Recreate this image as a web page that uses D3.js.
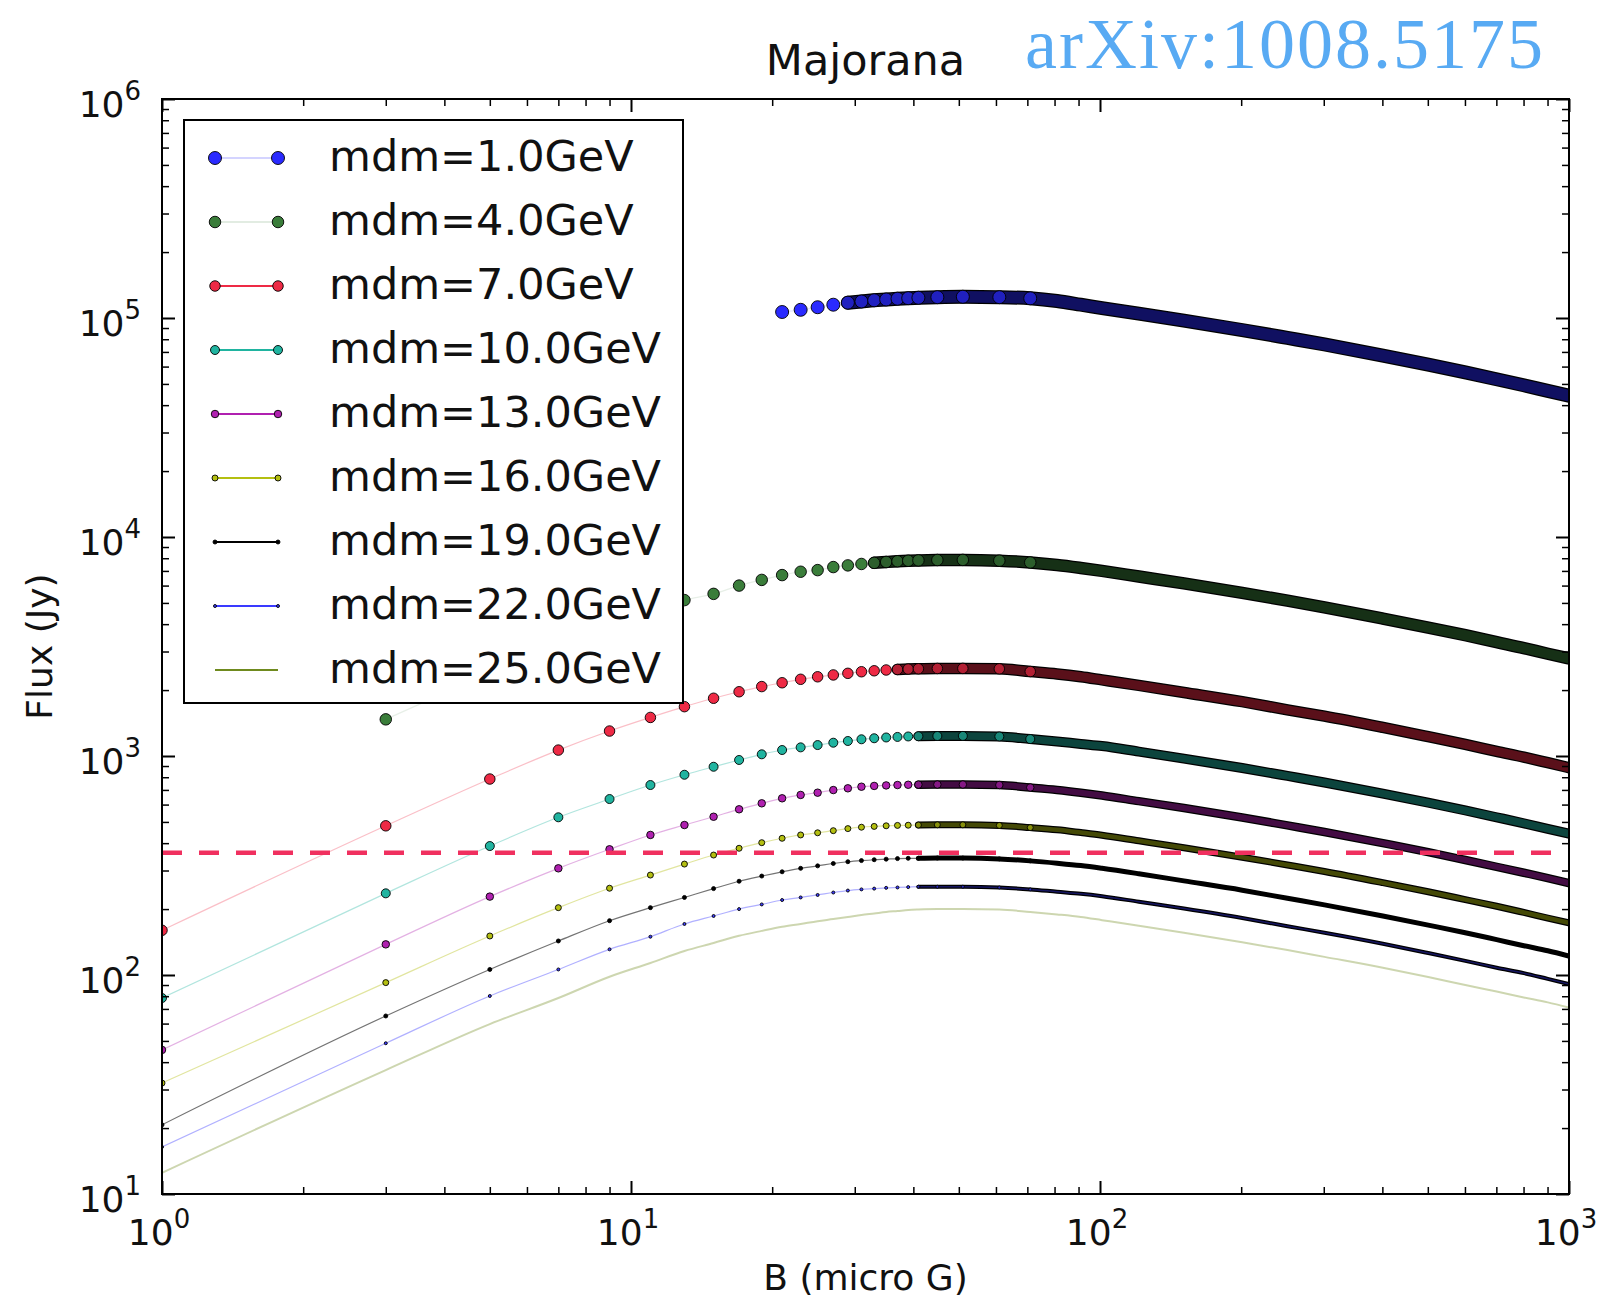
<!DOCTYPE html>
<html>
<head>
<meta charset="utf-8">
<script src="https://cdnjs.cloudflare.com/ajax/libs/d3/7.8.5/d3.min.js"></script>
<style>
body { margin: 0; background: #fff; }
text { font-family: "DejaVu Sans", sans-serif; fill: #111; }
</style>
</head>
<body>
<div id="chart"></div>
<script>
// magnetic field samples (micro G)
const B_VALUES = [1, 3, 5, 7, 9, 11, 13, 15, 17, 19, 21, 23, 25, 27, 29, 31, 33, 35, 37, 39, 41,
  45, 51, 61, 71, 81, 91, 101, 121, 151, 201, 251, 301, 401, 501, 601, 701, 801, 901, 999];

const MASSES = ["1.0", "4.0", "7.0", "10.0", "13.0", "16.0", "19.0", "22.0", "25.0"];

// flux (Jy) per dark matter mass
const flux_m1 = [null, null, null, null, null, null, null, null, null, null,
  106500, 109000, 112000, 115000, 117500, 119000, 120500, 121500, 122500, 123200, 123700,
  124500, 125000, 124500, 123000, 119500, 115000, 111000, 104700, 97300, 88100, 81100, 75700,
  67300, 61200, 56400, 52500, 49300, 46500, 44200];
const flux_m4 = [null, 1470, 2390, 3250, 3960, 4580, 5150, 5500, 6000, 6370, 6700, 6940, 7060,
  7290, 7420, 7530, 7620, 7690, 7750, 7790, 7820, 7850, 7860, 7800, 7650, 7450, 7220, 7000,
  6600, 6140, 5560, 5120, 4770, 4240, 3860, 3560, 3310, 3110, 2930, 2790];
const flux_m7 = [160, 480, 785, 1064, 1300, 1500, 1680, 1835, 1965, 2075, 2160, 2240, 2300,
  2345, 2385, 2425, 2450, 2470, 2485, 2495, 2502, 2510, 2512, 2500, 2430, 2370, 2300, 2225,
  2100, 1950, 1770, 1625, 1520, 1350, 1225, 1130, 1050, 988, 932, 885];
const flux_m10 = [78.5, 236, 388, 525, 636, 737, 821, 893, 959, 1018, 1065, 1095, 1122, 1150,
  1171, 1192, 1205, 1215, 1222, 1228, 1231, 1234, 1235, 1228, 1195, 1165, 1135, 1110, 1047,
  973, 881, 811, 757, 673, 612, 564, 525, 493, 465, 442];
const flux_m13 = [45.5, 138, 228, 307, 375, 436, 484, 528, 571, 608, 641, 664, 680, 699, 712,
  724, 730, 734, 737, 739, 740, 741, 741, 737, 718, 700, 680, 660, 622, 579, 524, 482, 450,
  400, 364, 335, 312, 293, 277, 263];
const flux_m16 = [32.1, 92.3, 150.7, 203, 249, 286, 321, 353, 379, 402, 421, 436, 446, 456,
  466, 473, 477, 480, 482, 483, 484, 485, 485, 482, 471, 460, 447, 435, 410, 381, 345, 318,
  297, 264, 240, 221, 206, 193, 182, 173];
const flux_m19 = [20.7, 65, 106, 143, 177, 203, 226, 248, 268, 283, 296, 307, 315, 323, 329,
  333, 336, 338, 340, 341, 341, 342, 342, 339, 332, 324, 316, 307, 290, 269, 244, 224, 209,
  186, 169, 156, 145, 136, 129, 122];
const flux_m22 = [16.4, 48.8, 80.2, 106, 131, 149.6, 171, 186, 200, 210, 220, 226, 232, 238,
  243, 246, 248, 250, 251, 252, 253, 253, 253, 251, 246, 240, 235, 229, 216, 201, 182, 167,
  156, 139, 126, 116, 108, 102, 96, 91];
const flux_m25 = [12.5, 36.8, 59.7, 78.5, 98.2, 113.5, 128.7, 140, 151, 159, 166, 171, 176,
  180, 184, 188, 191, 194, 196, 198, 199, 200, 200, 199, 194, 189, 184, 178, 168, 156, 141,
  130, 121, 108, 98, 90, 84, 79, 75, 71];

const FLUX_SERIES = [flux_m1, flux_m4, flux_m7, flux_m10, flux_m13, flux_m16, flux_m19, flux_m22, flux_m25];

const THRESHOLD_FLUX = 362;
const X_TICKS = [1, 10, 100, 1000];
const Y_TICKS = [10, 100, 1000, 10000, 100000, 1000000];
const TICK_EXPONENTS_X = ["0", "1", "2", "3"];
const TICK_EXPONENTS_Y = ["1", "2", "3", "4", "5", "6"];

// styles
const styles = [
  {color: "#2a2aff", size: 13, lineOp: 0.12, legendOp: 0.2},
  {color: "#3a7d3a", size: 11.5, lineOp: 0.12, legendOp: 0.15},
  {color: "#ee2a45", size: 10.5, lineOp: 0.3, legendOp: 1},
  {color: "#20b4a0", size: 9, lineOp: 0.35, legendOp: 1},
  {color: "#b020b0", size: 7.5, lineOp: 0.35, legendOp: 1},
  {color: "#b4bf10", size: 6, lineOp: 0.4, legendOp: 1},
  {color: "#000000", size: 4, lineOp: 0.55, legendOp: 1},
  {color: "#3a3aff", size: 3, lineOp: 0.4, legendOp: 1},
  {color: "#6f8a1e", size: 0, lineOp: 0.35, legendOp: 1}
];

const fullwidth = 1599;
const fullheight = 1302;
const plotLeft = 162, plotRight = 1569, plotTop = 99, plotBottom = 1194;

var svg = d3.select("#chart").append("svg")
  .attr("width", fullwidth)
  .attr("height", fullheight);

svg.append("rect").attr("width", fullwidth).attr("height", fullheight).attr("fill", "#fff");

var x = d3.scaleLog().domain([1, 1000]).range([plotLeft, plotRight]);
var y = d3.scaleLog().domain([10, 1e6]).range([plotBottom, plotTop]);

svg.append("defs").append("clipPath").attr("id", "plot-clip")
  .append("rect")
  .attr("x", plotLeft).attr("y", plotTop)
  .attr("width", plotRight - plotLeft).attr("height", plotBottom - plotTop);

var plot = svg.append("g").attr("clip-path", "url(#plot-clip)");

var line = d3.line()
  .x(d => x(d.b))
  .y(d => y(d.f))
  .curve(d3.curveMonotoneX);

FLUX_SERIES.forEach(function (series, i) {
  var s = styles[i];
  var pts = B_VALUES.map((b, j) => ({b: b, f: series[j]})).filter(d => d.f != null);

  // thin connecting line
  plot.append("path")
    .datum(pts)
    .attr("d", line)
    .attr("fill", "none")
    .attr("stroke", s.color)
    .attr("stroke-opacity", s.lineOp)
    .attr("stroke-width", i == 8 ? 2 : 1.2);

  if (s.size <= 0) return;

  // where the 2-step sampling makes markers overlap into a solid band
  var idx = pts.findIndex(d => (x(d.b + 2) - x(d.b)) < s.size || d.b >= 45);
  if (idx < 0) idx = pts.length;
  var bandPts = pts.slice(Math.max(idx - 1, 0));
  var bandColor = d3.interpolateRgb(s.color, "#000")(0.62);

  if (bandPts.length > 1) {
    plot.append("path")
      .datum(bandPts)
      .attr("d", line)
      .attr("fill", "none")
      .attr("stroke", "#000")
      .attr("stroke-width", s.size + 1)
      .attr("stroke-linecap", "round");
    plot.append("path")
      .datum(bandPts)
      .attr("d", line)
      .attr("fill", "none")
      .attr("stroke", bandColor)
      .attr("stroke-width", Math.max(s.size - 1.5, 0.5))
      .attr("stroke-linecap", "round");
  }

  // individual markers stay visible until they fully merge
  plot.selectAll(null)
    .data(pts.filter(d => d.b <= 71))
    .enter().append("circle")
    .attr("cx", d => x(d.b))
    .attr("cy", d => y(d.f))
    .attr("r", s.size / 2)
    .attr("fill", d => d.b < bandPts[0].b ? s.color : d3.interpolateRgb(s.color, bandColor)(0.4))
    .attr("stroke", "#000")
    .attr("stroke-width", 0.9);
});

// threshold
plot.append("line")
  .attr("x1", plotLeft).attr("x2", plotRight)
  .attr("y1", y(THRESHOLD_FLUX)).attr("y2", y(THRESHOLD_FLUX))
  .attr("stroke", "#f0305f")
  .attr("stroke-width", 4.5)
  .attr("stroke-dasharray", "20,17");

// ticks (inward on all sides)
var xMinor = [], yMinor = [];
[1, 10, 100].forEach(d => { for (var k = 2; k <= 9; ++k) xMinor.push(k * d); });
[10, 100, 1000, 10000, 100000].forEach(d => { for (var k = 2; k <= 9; ++k) yMinor.push(k * d); });

function tickAxis(axis, values, size, transform) {
  var g = svg.append("g").attr("transform", transform)
    .call(axis.tickValues(values).tickSize(-size).tickFormat(""));
  g.select(".domain").remove();
  g.selectAll(".tick line").attr("stroke", "#000").attr("stroke-width", size > 10 ? 2 : 1.5);
}
tickAxis(d3.axisBottom(x), X_TICKS, 13, `translate(0,${plotBottom})`);
tickAxis(d3.axisBottom(x), xMinor, 7, `translate(0,${plotBottom})`);
tickAxis(d3.axisTop(x), X_TICKS, 13, `translate(0,${plotTop})`);
tickAxis(d3.axisTop(x), xMinor, 7, `translate(0,${plotTop})`);
tickAxis(d3.axisLeft(y), Y_TICKS, 13, `translate(${plotLeft},0)`);
tickAxis(d3.axisLeft(y), yMinor, 7, `translate(${plotLeft},0)`);
tickAxis(d3.axisRight(y), Y_TICKS, 13, `translate(${plotRight},0)`);
tickAxis(d3.axisRight(y), yMinor, 7, `translate(${plotRight},0)`);

// frame
svg.append("rect")
  .attr("x", plotLeft).attr("y", plotTop)
  .attr("width", plotRight - plotLeft).attr("height", plotBottom - plotTop)
  .attr("fill", "none")
  .attr("stroke", "#000")
  .attr("stroke-width", 2);

// tick labels
function powerLabel(px, py, anchor, exponent) {
  var t = svg.append("text")
    .attr("x", px).attr("y", py)
    .attr("text-anchor", anchor)
    .style("font-size", "36px");
  t.append("tspan").text("10");
  t.append("tspan").attr("dy", -17).style("font-size", "26px").text(exponent);
}
X_TICKS.forEach((v, i) => powerLabel(x(v) - 3, 1245, "middle", TICK_EXPONENTS_X[i]));
Y_TICKS.forEach((v, i) => powerLabel(141, y(v) + 18, "end", TICK_EXPONENTS_Y[i]));

// titles
svg.append("text")
  .attr("x", (plotLeft + plotRight) / 2).attr("y", 75)
  .attr("text-anchor", "middle")
  .style("font-size", "43px")
  .text("Majorana");

svg.append("text")
  .attr("x", (plotLeft + plotRight) / 2).attr("y", 1290)
  .attr("text-anchor", "middle")
  .style("font-size", "36px")
  .text("B (micro G)");

svg.append("text")
  .attr("transform", `translate(52,${(plotTop + plotBottom) / 2}) rotate(-90)`)
  .attr("text-anchor", "middle")
  .style("font-size", "36px")
  .text("Flux (Jy)");

svg.append("text")
  .attr("x", 1025).attr("y", 68)
  .attr("textLength", 518)
  .attr("lengthAdjust", "spacing")
  .style("font-family", "'Liberation Serif', serif")
  .style("font-size", "72px")
  .style("fill", "#58aaf3")
  .text("arXiv:1008.5175");

// legend
var legend = svg.append("g").attr("class", "legend");
legend.append("rect")
  .attr("x", 184).attr("y", 120)
  .attr("width", 499).attr("height", 583)
  .attr("fill", "#fff")
  .attr("stroke", "#000")
  .attr("stroke-width", 2);

MASSES.forEach(function (m, i) {
  var s = styles[i];
  var base = 171 + 64 * i;
  var hy = base - 13;
  legend.append("line")
    .attr("x1", 215).attr("x2", 278)
    .attr("y1", hy).attr("y2", hy)
    .attr("stroke", s.color)
    .attr("stroke-opacity", s.legendOp)
    .attr("stroke-width", 2);
  if (s.size > 0) {
    [215, 278].forEach(function (hx) {
      legend.append("circle")
        .attr("cx", hx).attr("cy", hy)
        .attr("r", s.size / 2)
        .attr("fill", s.color)
        .attr("stroke", "#000")
        .attr("stroke-width", 0.9);
    });
  }
  legend.append("text")
    .attr("x", 329).attr("y", base)
    .style("font-size", "43px")
    .text("mdm=" + m + "GeV");
});
</script>
</body>
</html>
